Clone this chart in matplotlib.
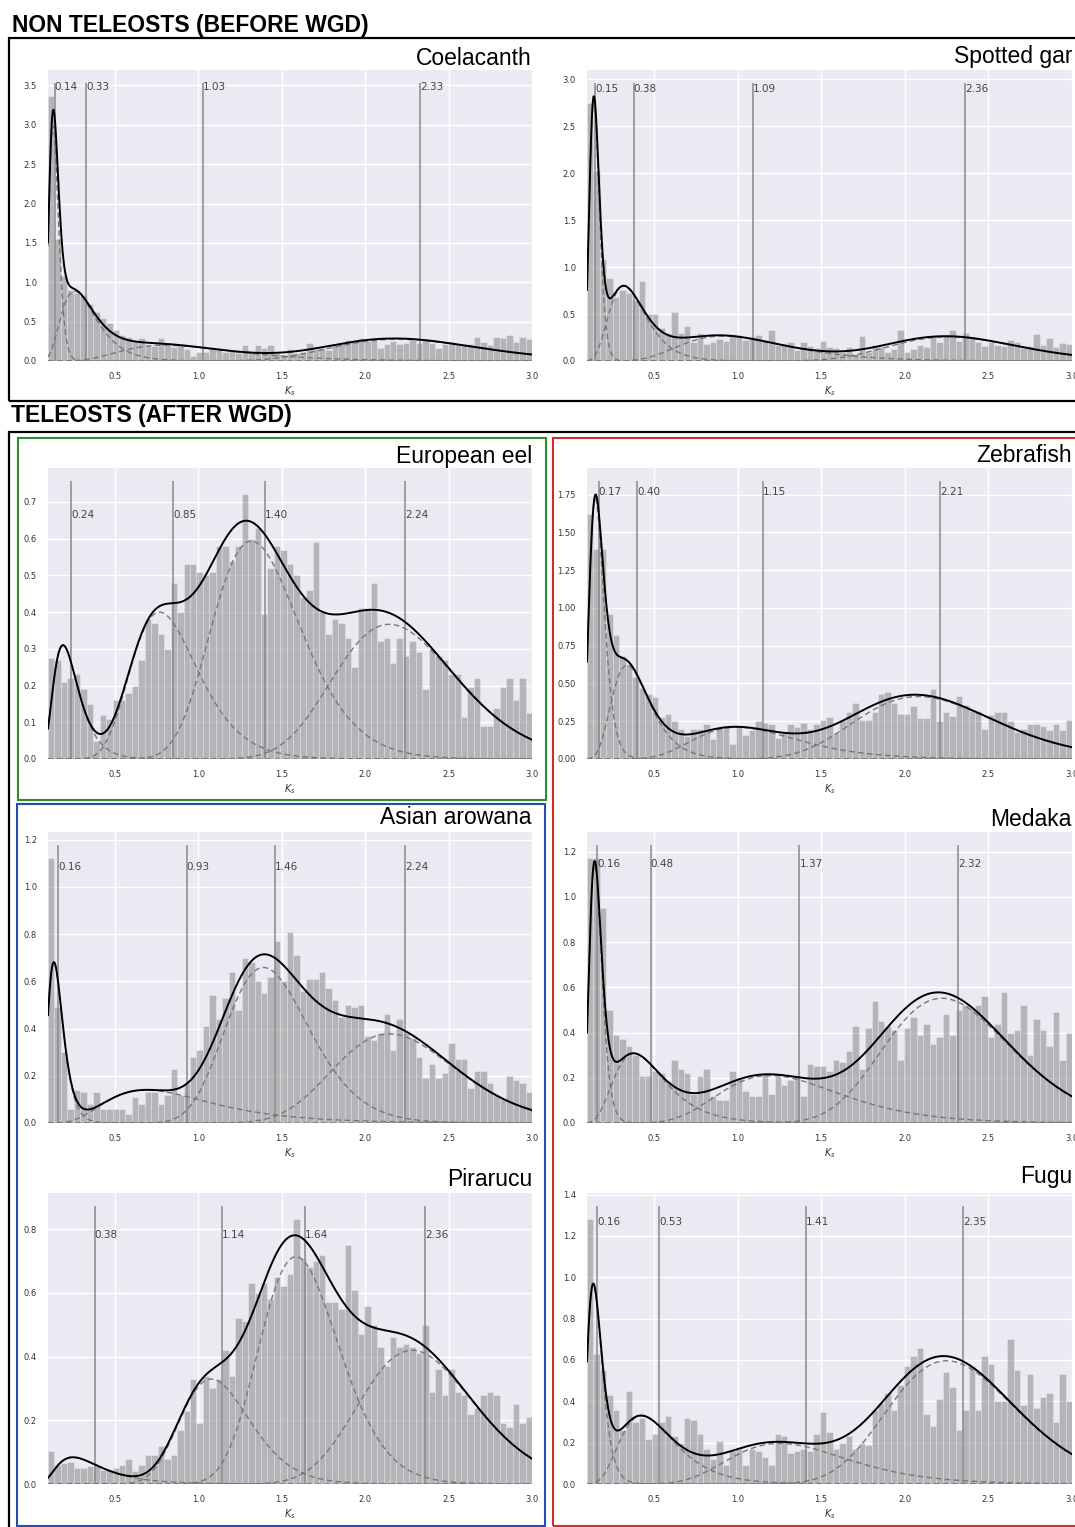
"""
Ks distributions with lognormal mixture fits, non-teleosts vs teleosts.
Output: out.png
"""
import numpy as np
import matplotlib
matplotlib.use("Agg")
import matplotlib.pyplot as plt
from matplotlib.patches import Rectangle
from matplotlib.ticker import MultipleLocator

W, H = 1075, 1527
KS_MIN, KS_MAX = 0.1, 3.0

# ---- histogram densities (75 bins between Ks 0.1 and 3.0) ----
coelacanth_hist = [3.36, 1.55, 1.08, 0.90, 0.86, 0.84, 0.72, 0.62, 0.55, 0.48,
                   0.40, 0.33, 0.30, 0.26, 0.29, 0.20, 0.19, 0.29, 0.20, 0.18,
                   0.20, 0.15, 0.06, 0.12, 0.12, 0.15, 0.15, 0.12, 0.13, 0.10,
                   0.20, 0.12, 0.20, 0.17, 0.20, 0.10, 0.08, 0.15, 0.10, 0.12,
                   0.23, 0.15, 0.17, 0.14, 0.20, 0.22, 0.27, 0.24, 0.29, 0.25,
                   0.28, 0.17, 0.22, 0.25, 0.22, 0.23, 0.27, 0.23, 0.28, 0.23,
                   0.17, 0.22, 0.24, 0.21, 0.22, 0.22, 0.30, 0.24, 0.20, 0.30,
                   0.29, 0.33, 0.24, 0.30, 0.28]
gar_hist = [2.75, 2.02, 1.08, 0.88, 0.68, 0.76, 0.72, 0.65, 0.85, 0.50,
            0.50, 0.35, 0.30, 0.52, 0.30, 0.37, 0.20, 0.30, 0.18, 0.20,
            0.23, 0.21, 0.29, 0.28, 0.22, 0.26, 0.28, 0.22, 0.33, 0.17,
            0.18, 0.20, 0.12, 0.20, 0.16, 0.14, 0.21, 0.15, 0.14, 0.10,
            0.15, 0.07, 0.27, 0.10, 0.17, 0.15, 0.10, 0.13, 0.33, 0.10,
            0.13, 0.17, 0.15, 0.27, 0.20, 0.27, 0.33, 0.21, 0.30, 0.26,
            0.20, 0.16, 0.20, 0.17, 0.16, 0.22, 0.20, 0.14, 0.16, 0.29,
            0.17, 0.24, 0.15, 0.19, 0.18]
eel_hist = [0.275, 0.27, 0.21, 0.22, 0.23, 0.19, 0.15, 0.05, 0.12, 0.11,
            0.16, 0.16, 0.18, 0.20, 0.27, 0.38, 0.37, 0.34, 0.30, 0.48,
            0.40, 0.53, 0.53, 0.51, 0.50, 0.51, 0.58, 0.58, 0.54, 0.58,
            0.72, 0.60, 0.63, 0.395, 0.52, 0.58, 0.57, 0.53, 0.50, 0.44,
            0.46, 0.59, 0.40, 0.34, 0.38, 0.37, 0.33, 0.25, 0.41, 0.41,
            0.48, 0.32, 0.33, 0.26, 0.33, 0.28, 0.32, 0.29, 0.19, 0.30,
            0.28, 0.27, 0.23, 0.23, 0.115, 0.195, 0.22, 0.09, 0.09, 0.14,
            0.195, 0.22, 0.16, 0.22, 0.125]
zebrafish_hist = [1.62, 1.39, 1.39, 0.96, 0.82, 0.68, 0.63, 0.54, 0.47, 0.43,
                  0.41, 0.28, 0.30, 0.25, 0.20, 0.15, 0.20, 0.20, 0.23, 0.13,
                  0.20, 0.22, 0.10, 0.21, 0.16, 0.19, 0.25, 0.24, 0.23, 0.14,
                  0.18, 0.23, 0.21, 0.24, 0.20, 0.23, 0.26, 0.28, 0.17, 0.26,
                  0.31, 0.37, 0.26, 0.26, 0.31, 0.43, 0.44, 0.37, 0.30, 0.30,
                  0.35, 0.27, 0.27, 0.46, 0.25, 0.31, 0.285, 0.42, 0.36, 0.32,
                  0.32, 0.20, 0.29, 0.31, 0.31, 0.25, 0.18, 0.20, 0.23, 0.23,
                  0.22, 0.19, 0.23, 0.19, 0.26]
arowana_hist = [1.12, 0.49, 0.30, 0.06, 0.14, 0.13, 0.08, 0.13, 0.06, 0.06,
                0.06, 0.06, 0.04, 0.11, 0.08, 0.13, 0.13, 0.08, 0.12, 0.23,
                0.12, 0.17, 0.28, 0.31, 0.41, 0.54, 0.44, 0.53, 0.64, 0.48,
                0.70, 0.68, 0.60, 0.55, 0.62, 0.77, 0.60, 0.81, 0.71, 0.56,
                0.61, 0.61, 0.64, 0.57, 0.52, 0.45, 0.50, 0.49, 0.50, 0.37,
                0.35, 0.38, 0.46, 0.31, 0.44, 0.38, 0.36, 0.28, 0.19, 0.25,
                0.19, 0.21, 0.34, 0.27, 0.27, 0.15, 0.22, 0.22, 0.17, 0.12,
                0.10, 0.20, 0.18, 0.17, 0.13]
medaka_hist = [1.17, 1.17, 0.95, 0.50, 0.39, 0.37, 0.34, 0.30, 0.21, 0.21,
               0.23, 0.22, 0.18, 0.28, 0.24, 0.22, 0.13, 0.21, 0.24, 0.12,
               0.10, 0.10, 0.23, 0.20, 0.14, 0.12, 0.12, 0.22, 0.13, 0.21,
               0.17, 0.19, 0.21, 0.12, 0.26, 0.25, 0.25, 0.23, 0.28, 0.27,
               0.32, 0.43, 0.24, 0.42, 0.54, 0.45, 0.43, 0.41, 0.28, 0.42,
               0.47, 0.39, 0.44, 0.35, 0.38, 0.48, 0.39, 0.50, 0.52, 0.51,
               0.52, 0.56, 0.38, 0.44, 0.58, 0.40, 0.41, 0.52, 0.30, 0.46,
               0.41, 0.34, 0.49, 0.28, 0.40]
pirarucu_hist = [0.105, 0.06, 0.065, 0.07, 0.05, 0.05, 0.055, 0.055, 0.045, 0.045,
                 0.05, 0.06, 0.08, 0.04, 0.06, 0.09, 0.09, 0.12, 0.08, 0.09,
                 0.17, 0.23, 0.33, 0.19, 0.34, 0.30, 0.33, 0.42, 0.34, 0.52,
                 0.51, 0.63, 0.60, 0.63, 0.58, 0.65, 0.62, 0.66, 0.83, 0.71,
                 0.68, 0.70, 0.72, 0.57, 0.57, 0.55, 0.75, 0.61, 0.47, 0.56,
                 0.50, 0.43, 0.37, 0.46, 0.43, 0.44, 0.43, 0.41, 0.50, 0.29,
                 0.36, 0.28, 0.36, 0.29, 0.28, 0.22, 0.24, 0.28, 0.29, 0.28,
                 0.19, 0.18, 0.25, 0.19, 0.21]
fugu_hist = [1.28, 0.63, 0.55, 0.43, 0.36, 0.26, 0.45, 0.30, 0.32, 0.22,
             0.24, 0.30, 0.33, 0.23, 0.20, 0.32, 0.31, 0.24, 0.17, 0.12,
             0.21, 0.09, 0.16, 0.17, 0.09, 0.17, 0.16, 0.13, 0.09, 0.24,
             0.23, 0.15, 0.16, 0.17, 0.16, 0.24, 0.35, 0.25, 0.17, 0.20,
             0.23, 0.17, 0.20, 0.19, 0.36, 0.39, 0.44, 0.36, 0.48, 0.57,
             0.62, 0.66, 0.34, 0.28, 0.41, 0.54, 0.47, 0.26, 0.36, 0.57,
             0.36, 0.62, 0.58, 0.40, 0.40, 0.70, 0.55, 0.38, 0.53, 0.37,
             0.42, 0.44, 0.30, 0.53, 0.40]

# ---- lognormal mixture fits: component means (labelled), log-sd, weights ----
coelacanth_means = [0.14, 0.33, 1.03, 2.33]
coelacanth_sigmas = [0.22, 0.40, 0.41, 0.20]
coelacanth_weights = [0.22, 0.25, 0.18, 0.31]

gar_means = [0.15, 0.38, 1.09, 2.36]
gar_sigmas = [0.21, 0.34, 0.34, 0.17]
gar_weights = [0.21, 0.23, 0.22, 0.25]

eel_means = [0.24, 0.85, 1.40, 2.24]
eel_sigmas = [0.395, 0.26, 0.20, 0.17]
eel_weights = [0.063, 0.207, 0.40, 0.34]

zebrafish_means = [0.17, 0.40, 1.15, 2.21]
zebrafish_sigmas = [0.289, 0.33, 0.305, 0.20]
zebrafish_weights = [0.195, 0.184, 0.168, 0.44]

arowana_means = [0.16, 0.93, 1.46, 2.24]
arowana_sigmas = [0.336, 0.45, 0.18, 0.17]
arowana_weights = [0.082, 0.12, 0.42, 0.35]

medaka_means = [0.16, 0.48, 1.37, 2.32]
medaka_sigmas = [0.256, 0.395, 0.30, 0.17]
medaka_weights = [0.11, 0.125, 0.198, 0.53]

pirarucu_means = [0.38, 1.14, 1.64, 2.36]
pirarucu_sigmas = [0.53, 0.193, 0.15, 0.15]
pirarucu_weights = [0.032, 0.175, 0.43, 0.364]

fugu_means = [0.16, 0.53, 1.41, 2.35]
fugu_sigmas = [0.32, 0.38, 0.28, 0.17]
fugu_weights = [0.112, 0.144, 0.18, 0.58]

# name, hist, means, sigmas, weights, axes box (px: x0, y0, x1, y1),
# y-tick step, label height (fraction of y-range), title gap (px)
LEFT, RIGHT = (48, 532), (587, 1072)
panels = [
    ("Coelacanth", coelacanth_hist, coelacanth_means, coelacanth_sigmas, coelacanth_weights,
     (LEFT[0], 70, LEFT[1], 361), 0.5, 0.94, 5),
    ("Spotted gar", gar_hist, gar_means, gar_sigmas, gar_weights,
     (RIGHT[0], 70, RIGHT[1], 361), 0.5, 0.935, 7),
    ("European eel", eel_hist, eel_means, eel_sigmas, eel_weights,
     (LEFT[0], 468, LEFT[1], 759), 0.1, 0.837, 5),
    ("Zebrafish", zebrafish_hist, zebrafish_means, zebrafish_sigmas, zebrafish_weights,
     (RIGHT[0], 468, RIGHT[1], 759), 0.25, 0.917, 6),
    ("Asian arowana", arowana_hist, arowana_means, arowana_sigmas, arowana_weights,
     (LEFT[0], 832, LEFT[1], 1123), 0.2, 0.88, 8),
    ("Medaka", medaka_hist, medaka_means, medaka_sigmas, medaka_weights,
     (RIGHT[0], 832, RIGHT[1], 1123), 0.2, 0.89, 6),
    ("Pirarucu", pirarucu_hist, pirarucu_means, pirarucu_sigmas, pirarucu_weights,
     (LEFT[0], 1193, LEFT[1], 1484), 0.2, 0.855, 7),
    ("Fugu", fugu_hist, fugu_means, fugu_sigmas, fugu_weights,
     (RIGHT[0], 1193, RIGHT[1], 1484), 0.2, 0.90, 10),
]


def lognorm_pdf(x, mean, s):
    mu = np.log(mean) - s ** 2 / 2
    return np.exp(-(np.log(x) - mu) ** 2 / (2 * s * s)) / (x * s * np.sqrt(2 * np.pi))


fig = plt.figure(figsize=(W / 100, H / 100), dpi=100)
fig.patch.set_facecolor("white")


def frame(x0, y0, x1, y1, color, lw):
    fig.add_artist(Rectangle((x0 / W, 1 - y1 / H), (x1 - x0) / W, (y1 - y0) / H,
                             transform=fig.transFigure, fill=False,
                             edgecolor=color, linewidth=lw, clip_on=False))


# section frames
frame(9, 38, 1100, 401, "black", 1.6)
frame(9, 432, 1100, 1530, "black", 1.6)
frame(17.5, 438, 545.5, 799.5, "#2e8b2e", 1.5)
frame(17, 803.5, 545, 1525.5, "#2a4bb0", 1.5)
frame(552.5, 438, 1100, 1525.5, "#d42a2a", 1.5)

fig.text(12 / W, 1 - 32 / H, "NON TELEOSTS (BEFORE WGD)", fontsize=16.5,
         fontweight="bold", family="Liberation Sans", va="baseline", ha="left")
fig.text(11 / W, 1 - 422 / H, "TELEOSTS (AFTER WGD)", fontsize=16.5,
         fontweight="bold", family="Liberation Sans", va="baseline", ha="left")

x = np.linspace(KS_MIN, KS_MAX, 600)

for name, hist, means, sigmas, weights, box, ystep, lab_frac, gap in panels:
    x0, y0, x1, y1 = box
    ax = fig.add_axes([x0 / W, 1 - y1 / H, (x1 - x0) / W, (y1 - y0) / H])
    ax.set_facecolor("#EAEAF2")
    ax.grid(color="white", linewidth=1.0)
    ax.set_axisbelow(True)
    for sp in ax.spines.values():
        sp.set_visible(False)

    edges = np.linspace(KS_MIN, KS_MAX, len(hist) + 1)
    ax.bar(edges[:-1], hist, width=np.diff(edges), align="edge",
           color="grey", alpha=0.5, edgecolor="white", linewidth=0.4)

    comps = [w * lognorm_pdf(x, m, s) for m, s, w in zip(means, sigmas, weights)]
    total = np.sum(comps, axis=0)
    top = max(max(hist), total.max())

    for m in means:
        ax.vlines(m, 0, 1.05 * top, color="#8a8a8a", linewidth=1.1)
        ax.text(m, lab_frac * 1.1 * top, f"{m:.2f}", ha="left", va="center",
                fontsize=7.5, color="#444444")
    for c in comps:
        ax.plot(x, c, color="#777777", linewidth=1.0, linestyle=(0, (4, 2.5)))
    ax.plot(x, total, color="black", linewidth=1.4)

    ax.set_xlim(KS_MIN, KS_MAX)
    ax.set_ylim(0, 1.1 * top)
    ax.set_xticks([0.5, 1.0, 1.5, 2.0, 2.5, 3.0])
    ax.yaxis.set_major_locator(MultipleLocator(ystep))
    ax.tick_params(length=0, labelsize=6, pad=8, colors="#333333")
    ax.set_xlabel(r"$K_s$", fontsize=7, labelpad=2, color="#333333")

    ax.annotate(name, xy=(1, 1), xycoords="axes fraction",
                xytext=(0, gap * 0.72), textcoords="offset points",
                ha="right", va="baseline", fontsize=16.5, family="Liberation Sans")

fig.savefig("out.png", dpi=100)
